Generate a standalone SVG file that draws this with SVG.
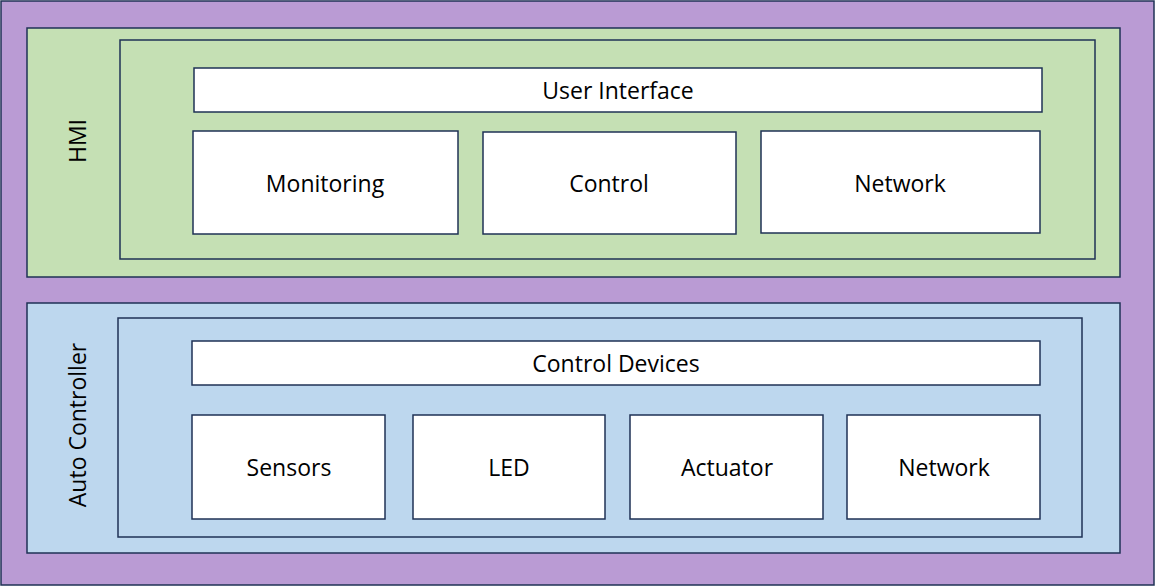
<svg xmlns="http://www.w3.org/2000/svg" width="1155" height="586" viewBox="0 0 1155 586">
<style>
rect{stroke:#1f3255;stroke-width:1.5}
.box{fill:#ffffff}
.t{font-family:"Open Sans","Noto Sans",sans-serif;font-size:23px;fill:#000;text-anchor:middle;dominant-baseline:central}
</style>
<g id="background"><rect x="1" y="1" width="1153" height="584" fill="#ba9bd4"/></g>
<g id="hmi">
<rect x="27" y="28" width="1093" height="249" fill="#c5e0b4"/>
<text class="t" transform="translate(77,141) rotate(-90)">HMI</text>
<rect x="120" y="40" width="975" height="219" fill="#c5e0b4"/>
</g>
<g id="user-interface"><rect class="box" x="194" y="68" width="848" height="44"/><text class="t" x="618" y="90">User Interface</text></g>
<g id="monitoring"><rect class="box" x="193" y="131" width="265" height="103"/><text class="t" x="325" y="183">Monitoring</text></g>
<g id="control"><rect class="box" x="483" y="132" width="253" height="102"/><text class="t" x="609" y="183">Control</text></g>
<g id="network-hmi"><rect class="box" x="761" y="131" width="279" height="102"/><text class="t" x="900" y="183">Network</text></g>
<g id="auto-controller">
<rect x="27" y="303" width="1093" height="250" fill="#bdd7ee"/>
<text class="t" transform="translate(77,425) rotate(-90)">Auto Controller</text>
<rect x="118" y="318" width="964" height="219" fill="#bdd7ee"/>
</g>
<g id="control-devices"><rect class="box" x="192" y="341" width="848" height="44"/><text class="t" x="616" y="363">Control Devices</text></g>
<g id="sensors"><rect class="box" x="192" y="415" width="193" height="104"/><text class="t" x="289" y="467">Sensors</text></g>
<g id="led"><rect class="box" x="413" y="415" width="192" height="104"/><text class="t" x="509" y="467">LED</text></g>
<g id="actuator"><rect class="box" x="630" y="415" width="193" height="104"/><text class="t" x="727" y="467">Actuator</text></g>
<g id="network-ac"><rect class="box" x="847" y="415" width="193" height="104"/><text class="t" x="944" y="467">Network</text></g>
<g id="connectors"></g>
</svg>
